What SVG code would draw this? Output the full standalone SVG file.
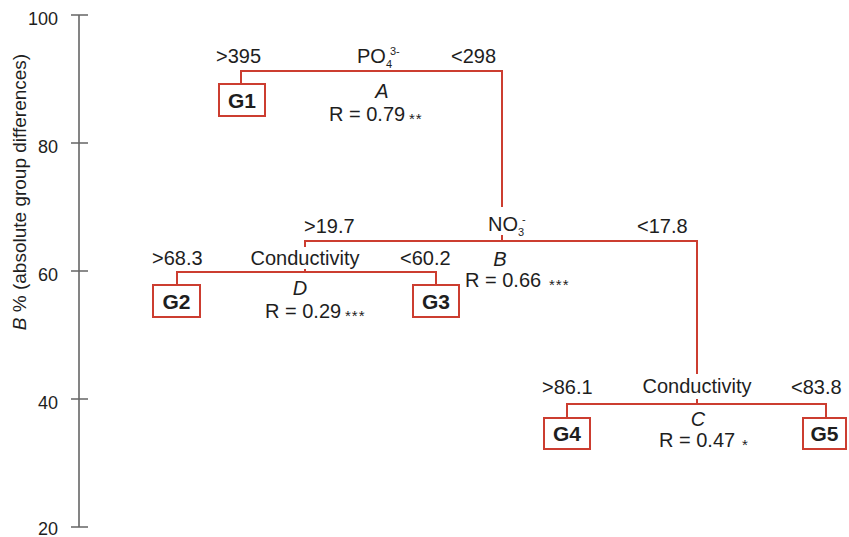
<svg xmlns="http://www.w3.org/2000/svg" width="849" height="537" viewBox="0 0 849 537">
<style>
text{font-family:"Liberation Sans",Arial,sans-serif;fill:#1e1e1e}
.t{font-size:20px}
.c{text-anchor:middle}
.i{font-style:italic}
.s{font-size:11px}
.st{font-size:15px;letter-spacing:1px}
.ax{font-size:18px;text-anchor:end}
.g{font-size:21px;font-weight:bold;text-anchor:middle}
.ln{stroke:#cc3d30;stroke-width:2;fill:none}
.bx{stroke:#cc3d30;stroke-width:2;fill:#fff}
.axl{stroke:#666;stroke-width:1.6;fill:none}
</style>
<rect width="849" height="537" fill="#fff"/>
<g id="axis">
<path class="axl" d="M79 15V527M71 15H88M71 143H88M71 271H88M71 399H88M71 527H88"/>
<text class="ax" x="58" y="25">100</text>
<text class="ax" x="58" y="153">80</text>
<text class="ax" x="58" y="281">60</text>
<text class="ax" x="58" y="409">40</text>
<text class="ax" x="58" y="535">20</text>
<text transform="translate(26 192) rotate(-90)" style="font-size:19px;text-anchor:middle"><tspan class="i">B</tspan> % (absolute group differences)</text>
</g>
<g id="connectors">
<path class="ln" d="M241 84V71H502V207M502 235V241"/>
<path class="ln" d="M305 247V241H697V374M697 399V404"/>
<path class="ln" d="M305 269V272M177 285V272H436V285"/>
<path class="ln" d="M567 418V404H826V418"/>
</g>
<g id="split-A">
<text class="t" x="216" y="63">&gt;395</text>
<text class="t" x="357" y="63">PO</text>
<text class="s" x="386" y="68">4</text>
<text class="s" x="390" y="55">3-</text>
<text class="t" x="451" y="63">&lt;298</text>
<text class="t c i" x="382" y="98">A</text>
<text class="t" x="329" y="121">R = 0.79</text>
<text class="st" x="409" y="124">**</text>
</g>
<g id="split-B">
<text class="t" x="304" y="233">&gt;19.7</text>
<text class="t" x="488" y="231">NO</text>
<text class="s" x="518" y="236">3</text>
<text class="s" x="522" y="223">-</text>
<text class="t" x="637" y="233">&lt;17.8</text>
<text class="t c i" x="500" y="266">B</text>
<text class="t" x="465" y="287">R = 0.66</text>
<text class="st" x="549" y="290">***</text>
</g>
<g id="split-D">
<text class="t" x="152" y="265">&gt;68.3</text>
<text class="t c" x="305" y="265">Conductivity</text>
<text class="t" x="400" y="265">&lt;60.2</text>
<text class="t c i" x="300" y="295">D</text>
<text class="t" x="265" y="318">R = 0.29</text>
<text class="st" x="345" y="321">***</text>
</g>
<g id="split-C">
<text class="t" x="542" y="394">&gt;86.1</text>
<text class="t c" x="697" y="393">Conductivity</text>
<text class="t" x="791" y="394">&lt;83.8</text>
<text class="t c i" x="698" y="426">C</text>
<text class="t" x="659" y="447">R = 0.47</text>
<text class="st" x="742" y="450">*</text>
</g>
<g id="G1"><rect class="bx" x="219" y="84" width="46" height="32"/><text class="g" x="242" y="108">G1</text></g>
<g id="G2"><rect class="bx" x="153" y="285" width="47" height="32"/><text class="g" x="176.5" y="309">G2</text></g>
<g id="G3"><rect class="bx" x="413" y="285" width="46" height="32"/><text class="g" x="436" y="309">G3</text></g>
<g id="G4"><rect class="bx" x="544" y="418" width="46" height="31"/><text class="g" x="567" y="441">G4</text></g>
<g id="G5"><rect class="bx" x="803" y="418" width="43" height="31"/><text class="g" x="824.5" y="441">G5</text></g>
</svg>
